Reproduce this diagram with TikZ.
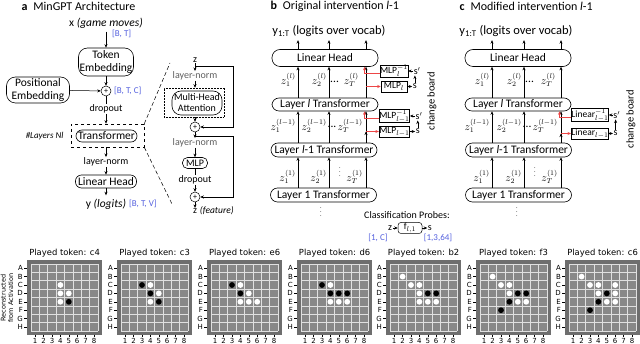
\documentclass[tikz,border=0pt]{standalone}
\usepackage{fontspec}
\setmainfont{Carlito}
\newfontfamily\plotfont{DejaVu Sans}
\usetikzlibrary{positioning,arrows.meta}
\definecolor{shapeblue}{RGB}{84,96,222}
\definecolor{probered}{RGB}{236,70,70}
\definecolor{boardframe}{RGB}{110,110,110}
\definecolor{boardcell}{RGB}{136,136,136}
\definecolor{normgray}{RGB}{95,95,95}

% one reconstructed board: left edge, played token, stones (row/column/colour)
\newcommand{\othelloboard}[3]{%
  \begin{scope}[shift={(#1,0)}]
    \fill[boardframe] (0,260) rectangle (75.2,335.2);
    \fill[boardcell] (4,264) rectangle (71.2,331.2);
    \foreach \i in {0,...,8} {
      \draw[gridline] (4+\i*8.4,264) -- (4+\i*8.4,331.2);
      \draw[gridline] (4,264+\i*8.4) -- (71.2,264+\i*8.4);
    }
    \node[boardtitle] at (37.6,253) {Played token: #2};
    \foreach \rowlbl [count=\rowi] in {A,B,C,D,E,F,G,H} {
      \node[axislbl,anchor=east] at (-4,259.8+\rowi*8.4) {\rowlbl};
      \draw[axistick] (-3,259.8+\rowi*8.4) -- (0,259.8+\rowi*8.4);
    }
    \foreach \colj in {1,...,8} {
      \draw[axistick] (-0.2+\colj*8.4,335.2) -- (-0.2+\colj*8.4,337.2);
      \node[axislbl] at (-0.2+\colj*8.4,341) {\colj};
    }
    \foreach \srow/\scol/\stone in {#3}
      \fill[\stone] (-0.2+\scol*8.4,259.8+\srow*8.4) circle (2.9pt);
  \end{scope}}

\begin{document}
\begin{tikzpicture}[x=1pt,y=-1pt,
  font=\fontsize{11.5}{12.5}\selectfont,
  archbox/.style={draw,line width=0.6pt,rounded corners=7pt,align=center,inner sep=0pt},
  layerbox/.style={draw,line width=0.6pt,rounded corners=7pt,minimum width=106pt,
    minimum height=14pt,inner sep=0pt},
  probebox/.style={draw,line width=0.5pt,minimum width=26pt,minimum height=11pt,
    inner sep=0pt,font=\fontsize{9.5}{10.5}\selectfont},
  opnote/.style={inner sep=0.5pt,font=\fontsize{10}{11}\selectfont},
  paneltitle/.style={anchor=west,font=\fontsize{12}{13}\selectfont},
  dimlabel/.style={text=shapeblue,inner sep=0pt,font=\fontsize{9}{10}\selectfont},
  zlabel/.style={inner sep=0pt,anchor=east,font=\fontsize{10.5}{11}\selectfont},
  addop/.style={circle,draw,line width=0.5pt,minimum size=10pt,inner sep=0pt,
    font=\fontsize{8}{8}\selectfont},
  arr/.style={-{Stealth[length=3.5pt,width=3pt]},line width=0.5pt},
  redarr/.style={arr,draw=probered,line width=0.6pt},
  gridline/.style={draw=white!88!black,line width=0.7pt},
  axislbl/.style={font=\plotfont\fontsize{7}{7}\selectfont,inner sep=0pt},
  axistick/.style={line width=0.4pt},
  boardtitle/.style={font=\plotfont\fontsize{8.4}{9}\selectfont,inner sep=0pt}]

  \useasboundingbox (0,0) rectangle (640,344);

  % a: MinGPT architecture
  \node[paneltitle] (titleA) at (18,6) {\textbf{a}\enspace MinGPT Architecture};
  \node (gameIn) at (106,23) {x \textit{(game moves)}};
  \node[archbox,minimum width=55pt,minimum height=28pt,rounded corners=9pt] (tokEmb)
    at (106,62) {Token\\Embedding};
  \node[dimlabel,anchor=west] (dimBT) at (112,34) {[B, T]};
  \node[addop] (addPos) at (106,91) {+};
  \node[archbox,minimum width=63pt,minimum height=26pt,rounded corners=9pt] (posEmb)
    at (38,90) {Positional\\Embedding};
  \node[dimlabel,anchor=west] (dimBTC) at (114,91) {[B, T, C]};
  \node[opnote] (dropA) at (106,109) {dropout};
  \node[draw,dashed,line width=0.6pt,minimum width=73pt,minimum height=23pt,
    inner sep=0pt] (trfGroup) at (107.5,135.5) {};
  \node[archbox,minimum width=61pt,minimum height=12pt,rounded corners=6pt] (trfA)
    at (106.5,136) {Transformer};
  \node[anchor=east,font=\itshape\fontsize{9}{10}\selectfont] (nLayers)
    at (67,136) {\#Layers Nl};
  \node[opnote] (normA) at (106,162) {layer-norm};
  \node[archbox,minimum width=61pt,minimum height=13pt,rounded corners=6pt] (headA)
    at (106,181.5) {Linear Head};
  \node (logitsA) at (106,204) {y \textit{(logits)}};
  \node[dimlabel,anchor=west] (dimBTV) at (129,204) {[B, T, V]};

  \draw[arr] (gameIn) -- (tokEmb);
  \draw[arr] (tokEmb) -- (addPos);
  \draw[arr] (posEmb) -- (addPos);
  \draw (addPos) -- (dropA);
  \draw[arr] (dropA) -- (dropA |- trfGroup.north);
  \draw[arr] (trfGroup.south -| normA) -- (normA);
  \draw[arr] (normA) -- (headA);
  \draw[arr] (headA) -- (logitsA);

  % zoom into one transformer block
  \coordinate (zoomTop) at (170,63);
  \coordinate (zoomBot) at (172,204);
  \draw[dash pattern=on 4pt off 2.5pt,line width=0.5pt] (trfGroup.north east) -- (zoomTop);
  \draw[dash pattern=on 4pt off 2.5pt,line width=0.5pt] (trfGroup.south east) -- (zoomBot);

  \node[opnote] (zIn) at (195,60) {z};
  \node[opnote,text=normgray] (normB) at (195,76) {layer-norm};
  \node[draw,densely dotted,line width=0.5pt,minimum width=60pt,minimum height=29pt,
    inner sep=0pt] (mhaGroup) at (194,102.5) {};
  \node[archbox,minimum width=50pt,minimum height=24pt,rounded corners=9pt,
    font=\fontsize{10}{11}\selectfont] (mha) at (197,103) {Multi-Head\\Attention};
  \node[addop] (addAttn) at (195,127) {+};
  \node[opnote,text=normgray] (normC) at (195,143) {layer-norm};
  \node[archbox,minimum width=25pt,minimum height=11pt,rounded corners=5pt,
    font=\fontsize{10}{11}\selectfont] (mlpA) at (195,163) {MLP};
  \node[opnote] (dropB) at (195,180) {dropout};
  \node[addop] (addMlp) at (195,197) {+};
  \node[opnote] (zOut) at (195,211) {z};
  \node[opnote,base right=1.5pt of zOut,font=\itshape\fontsize{9.5}{10}\selectfont]
    (featLbl) {(feature)};

  \draw[arr] (zIn) -- (normB);
  \draw[arr] (normB) -- (normB |- mhaGroup.north);
  \draw[arr] (mhaGroup.south -| addAttn) -- (addAttn);
  \draw[arr] (addAttn) -- (normC);
  \draw[arr] (normC) -- (mlpA);
  \draw (mlpA) -- (dropB);
  \draw[arr] (dropB) -- (addMlp);
  \draw[arr] (addMlp) -- (zOut);
  \coordinate (skipA) at (233,66);
  \coordinate (skipB) at (233,136);
  \draw[arr,line width=0.7pt] (zIn |- skipA) -- (skipA) |- (addAttn);
  \draw[arr,line width=0.7pt] (addAttn |- skipB) -- (skipB) |- (addMlp);

  % b: original intervention
  \node[paneltitle] (titleB) at (267,6) {\textbf{b}\enspace Original intervention \textit{l}-1};
  \node[font=\fontsize{12.5}{13}\selectfont] (vocabB) at (329,31)
    {y\textsubscript{1:T} (logits over vocab)};
  \node[layerbox,minimum height=17pt,rounded corners=8pt] (headB) at (325,58) {Linear Head};
  \node[layerbox,minimum height=13pt] (layLB) at (325,104.5) {Layer \textit{l} Transformer};
  \node[layerbox] (layPrevB) at (324,150) {Layer \textit{l}-1 Transformer};
  \node[layerbox] (layOneB) at (323.5,195) {Layer 1 Transformer};
  \coordinate (colB1) at (298,0);
  \coordinate (colB2) at (329,0);
  \coordinate (colB3) at (366,0);
  \coordinate (redB) at (364.5,0);
  \foreach \cx in {colB1,colB2,colB3} {
    \draw[arr] (headB.north -| \cx) -- (vocabB.south -| \cx);
    \draw[arr] (layLB.north -| \cx) -- (headB.south -| \cx);
    \draw[arr] (layPrevB.north -| \cx) -- (layLB.south -| \cx);
    \draw[arr] (layOneB.north -| \cx) -- (layPrevB.south -| \cx);
  }
  \node[zlabel] (zLB1) at (296,80) {$z_1^{(l)}$};
  \node[zlabel] (zLB2) at (327,80) {$z_2^{(l)}$};
  \node[anchor=west,inner sep=0pt] (dotsLB) at (330,82) {...};
  \node[zlabel] (zLBT) at (359,80) {$z_T^{(l)}$};
  \node[zlabel] (zPB1) at (296,126) {$z_1^{(l-1)}$};
  \node[zlabel] (zPB2) at (327,126) {$z_2^{(l-1)}$};
  \node[anchor=west,inner sep=0pt] (dotsPB) at (327.5,127) {...};
  \node[zlabel] (zPBT) at (363,126) {$z_T^{(l-1)}$};
  \node[zlabel] (zOB1) at (296,177) {$z_1^{(1)}$};
  \node[zlabel] (zOB2) at (327,177) {$z_2^{(1)}$};
  \node[inner sep=0pt,font=\fontsize{6}{6}\selectfont] (vdotsOB) at (340,169) {$\vdots$};
  \node[zlabel] (zOBT) at (363,177) {$z_T^{(1)}$};
  \node[inner sep=0pt,font=\fontsize{6}{6}\selectfont] (belowB) at (321,209) {$\vdots$};

  \node[probebox] (mlpInvB) at (394,71) {MLP$_l^{-1}$};
  \node[probebox] (mlpB) at (394,86.5) {MLP$_l$};
  \node[probebox] (mlpInvPrevB) at (394.5,116) {MLP$_{l-1}^{-1}$};
  \node[probebox,line width=0.9pt] (mlpPrevB) at (394.5,131.5) {MLP$_{l-1}$};
  \node[opnote,right=5pt of mlpInvB] (sPrimeB) {s$'$};
  \node[opnote,right=5pt of mlpB] (sB) {s};
  \node[opnote,right=5pt of mlpInvPrevB] (sPrimePrevB) {s$'$};
  \node[opnote,right=5pt of mlpPrevB] (sPrevB) {s};
  \draw[arr] (sPrimeB) -- (mlpInvB);
  \draw[arr] (mlpB) -- (sB);
  \draw[arr] (sB.north) -- (sB.north |- sPrimeB.south);
  \draw[arr] (sPrimePrevB) -- (mlpInvPrevB);
  \draw[arr] (mlpPrevB) -- (sPrevB);
  \draw[arr] (sPrevB.north) -- (sPrevB.north |- sPrimePrevB.south);
  \draw[redarr] ([yshift=-2pt]mlpInvB.west) -| (headB.south -| redB);
  \draw[redarr] (mlpB.west -| colB3) -- (mlpB.west);
  \draw[redarr] ([yshift=-2pt]mlpInvPrevB.west) -| (layLB.south -| redB);
  \draw[redarr] (mlpPrevB.west -| colB3) -- (mlpPrevB.west);
  \draw[arr] (layPrevB.north -| colB3) -- (mlpPrevB.west -| colB3);
  \node[rotate=90,font=\fontsize{10.5}{11}\selectfont] (chgB) at (432,101) {change board};

  % c: modified intervention
  \node[paneltitle] (titleC) at (456,6) {\textbf{c}\enspace Modified intervention \textit{l}-1};
  \node[font=\fontsize{12.5}{13}\selectfont] (vocabC) at (516,31)
    {y\textsubscript{1:T} (logits over vocab)};
  \node[layerbox,minimum height=17pt,rounded corners=8pt] (headC) at (518,58) {Linear Head};
  \node[layerbox,minimum height=13pt] (layLC) at (518,104.5) {Layer \textit{l} Transformer};
  \node[layerbox] (layPrevC) at (518.5,150) {Layer \textit{l}-1 Transformer};
  \node[layerbox] (layOneC) at (518.5,195) {Layer 1 Transformer};
  \coordinate (colC1) at (492,0);
  \coordinate (colC2) at (524,0);
  \coordinate (colC3) at (561,0);
  \coordinate (redC) at (559.5,0);
  \foreach \cx in {colC1,colC2,colC3} {
    \draw[arr] (headC.north -| \cx) -- (vocabC.south -| \cx);
    \draw[arr] (layLC.north -| \cx) -- (headC.south -| \cx);
    \draw[arr] (layPrevC.north -| \cx) -- (layLC.south -| \cx);
    \draw[arr] (layOneC.north -| \cx) -- (layPrevC.south -| \cx);
  }
  \node[zlabel] (zLC1) at (490,80) {$z_1^{(l)}$};
  \node[zlabel] (zLC2) at (522,80) {$z_2^{(l)}$};
  \node[anchor=west,inner sep=0pt] (dotsLC) at (525,82) {...};
  \node[zlabel] (zLCT) at (556,80) {$z_T^{(l)}$};
  \node[zlabel] (zPC1) at (490,126) {$z_1^{(l-1)}$};
  \node[zlabel] (zPC2) at (522,126) {$z_2^{(l-1)}$};
  \node[anchor=west,inner sep=0pt] (dotsPC) at (522.5,127) {...};
  \node[zlabel] (zPCT) at (558,126) {$z_T^{(l-1)}$};
  \node[zlabel] (zOC1) at (490,177) {$z_1^{(1)}$};
  \node[zlabel] (zOC2) at (522,177) {$z_2^{(1)}$};
  \node[inner sep=0pt,font=\fontsize{6}{6}\selectfont] (vdotsOC) at (535,169) {$\vdots$};
  \node[zlabel] (zOCT) at (558,177) {$z_T^{(1)}$};
  \node[inner sep=0pt,font=\fontsize{6}{6}\selectfont] (belowC) at (517,209) {$\vdots$};

  \node[probebox,minimum width=31pt] (linInvC) at (590,115) {Linear$_{l-1}^{-1}$};
  \node[probebox,minimum width=31pt,line width=0.9pt] (linPrevC) at (590,133.5) {Linear$_{l-1}$};
  \node[opnote,right=4pt of linInvC] (sPrimeC) {s$'$};
  \node[opnote,right=4pt of linPrevC] (sC) {s};
  \draw[arr] (sPrimeC) -- (linInvC);
  \draw[arr] (linPrevC) -- (sC);
  \draw[arr] (sC.north) -- (sC.north |- sPrimeC.south);
  \draw[redarr] ([yshift=-2pt]linInvC.west) -| (layLC.south -| redC);
  \draw[redarr] (linPrevC.west -| colC3) -- (linPrevC.west);
  \draw[arr] (layPrevC.north -| colC3) -- (linPrevC.west -| colC3);
  \node[rotate=90,font=\fontsize{10.5}{11}\selectfont] (chgC) at (631,119) {change board};

  % classification probes
  \node[font=\fontsize{10}{11}\selectfont] (probeTitle) at (407,215) {Classification Probes:};
  \node[probebox,rounded corners=3pt,minimum width=24pt] (fProbe) at (410,228) {f$_{l,1}$};
  \node[opnote,left=5pt of fProbe] (zProbe) {z};
  \node[opnote,right=5pt of fProbe] (sProbe) {s};
  \draw[arr] (zProbe) -- (fProbe);
  \draw[arr] (fProbe) -- (sProbe);
  \node[dimlabel] (dimZ) at (378,237.5) {[1, C]};
  \node[dimlabel] (dimS) at (438,237.5) {[1,3,64]};

  % reconstructed boards
  \node[rotate=90,align=center,font=\plotfont\fontsize{6.5}{7.5}\selectfont] (reconLbl)
    at (7,298) {Reconstructed\\from Activation};
  \othelloboard{27}{c4}{3/4/white,4/4/white,4/5/white,5/4/white,5/5/black}
  \othelloboard{117}{c3}{3/3/black,3/4/white,4/4/black,4/5/white,5/4/white,5/5/black}
  \othelloboard{207}{e6}{3/3/black,3/4/white,4/4/black,4/5/white,5/4/white,5/5/white,5/6/white}
  \othelloboard{297}{d6}{3/3/black,3/4/white,4/4/black,4/5/black,4/6/black,5/4/white,5/5/white,5/6/white}
  \othelloboard{386}{b2}{2/2/white,3/3/white,3/4/white,4/4/white,4/5/black,4/6/black,5/4/white,5/5/white,5/6/white}
  \othelloboard{476}{f3}{2/2/white,3/3/white,3/4/white,4/4/white,4/5/black,4/6/black,5/4/black,5/5/white,5/6/white,6/3/black}
  \othelloboard{565}{c6}{2/2/white,3/3/white,3/4/white,3/6/white,4/4/white,4/5/black,4/6/white,5/4/black,5/5/white,5/6/white,6/3/black}
\end{tikzpicture}
\end{document}
